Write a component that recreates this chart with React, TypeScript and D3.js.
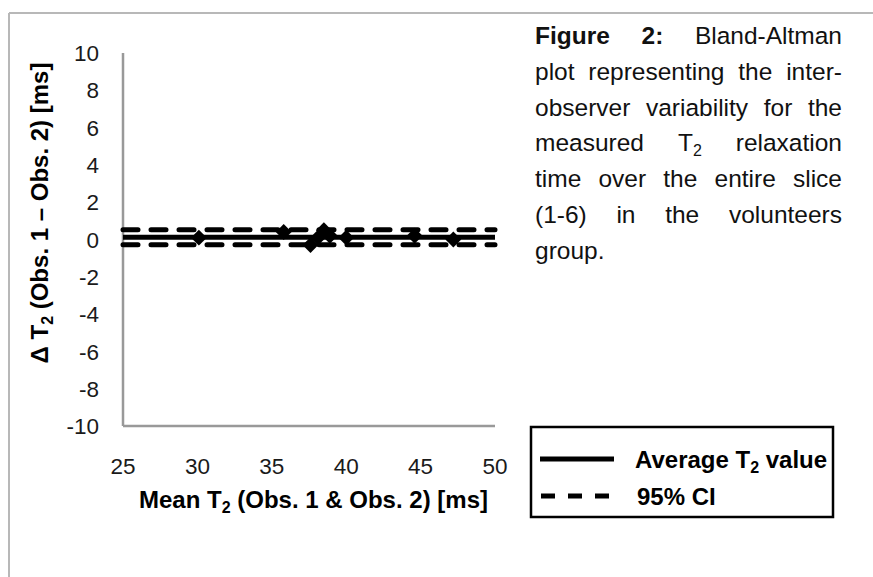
import { useMemo } from 'react';
import * as d3 from 'd3';

// Bland-Altman points (mean of both observers vs difference)
const meanT2 = [30.1, 35.8, 37.6, 38.1, 38.5, 38.9, 40.0, 44.6, 47.2];
const deltaT2 = [0.1, 0.4, -0.3, 0.1, 0.5, 0.2, 0.1, 0.2, 0.0];
const avgDelta = 0.12;
const ciUpper = 0.52;
const ciLower = -0.28;

const xTicks = [25, 30, 35, 40, 45, 50];
const yTicks = [10, 8, 6, 4, 2, 0, -2, -4, -6, -8, -10];

type Seg = { t: string; bold?: boolean; sub?: boolean };
type Word = Seg[];

const captionLines: Word[][] = [
  [[{ t: 'Figure', bold: true }], [{ t: '2:', bold: true }], [{ t: 'Bland-Altman' }]],
  [[{ t: 'plot' }], [{ t: 'representing' }], [{ t: 'the' }], [{ t: 'inter-' }]],
  [[{ t: 'observer' }], [{ t: 'variability' }], [{ t: 'for' }], [{ t: 'the' }]],
  [[{ t: 'measured' }], [{ t: 'T' }, { t: '2', sub: true }], [{ t: 'relaxation' }]],
  [[{ t: 'time' }], [{ t: 'over' }], [{ t: 'the' }], [{ t: 'entire' }], [{ t: 'slice' }]],
  [[{ t: '(1-6)' }], [{ t: 'in' }], [{ t: 'the' }], [{ t: 'volunteers' }]],
  [[{ t: 'group.' }]],
];

const FONT = "'Liberation Sans', Arial, sans-serif";
const W = 873;
const H = 577;
const M = { left: 123, right: 495, top: 53, bottom: 426 };

const CAP_X0 = 535;
const CAP_X1 = 842;
const CAP_Y0 = 44;
const CAP_LH = 35.8;
const CAP_FS = 24.5;
const SUB_FS = 16;

export default function App() {
  const x = d3.scaleLinear().domain([25, 50]).range([M.left, M.right]);
  const y = d3.scaleLinear().domain([-10, 10]).range([M.bottom, M.top]);

  const caption = useMemo(() => {
    const ctx = document.createElement('canvas').getContext('2d')!;
    const segW = (s: Seg) => {
      ctx.font = `${s.bold ? 'bold ' : ''}${s.sub ? SUB_FS : CAP_FS}px ${FONT}`;
      return ctx.measureText(s.t).width;
    };
    return captionLines.map((words, li) => {
      const widths = words.map((w) => d3.sum(w, segW));
      const last = li === captionLines.length - 1;
      const gap = last || words.length < 2
        ? ctx.measureText(' ').width
        : (CAP_X1 - CAP_X0 - d3.sum(widths)) / (words.length - 1);
      let cx = CAP_X0;
      return words.map((w, wi) => {
        const pos = cx;
        cx += widths[wi] + gap;
        return { word: w, x: pos };
      });
    });
  }, []);

  const line = d3.line<[number, number]>().x((d) => x(d[0])).y((d) => y(d[1]));
  const hLine = (v: number) => line([[25, v], [50, v]]) ?? '';
  const diamond = d3.symbol(d3.symbolDiamond2, 160)() ?? '';

  return (
    <svg
      width={W}
      height={H}
      style={{ position: 'absolute', left: 0, top: 0, background: '#fff' }}
      fontFamily={FONT}
    >
      {/* outer frame */}
      <line x1={9} y1={13} x2={W} y2={13} stroke="#b8b8b8" strokeWidth={2} />
      <line x1={9} y1={13} x2={9} y2={H} stroke="#b8b8b8" strokeWidth={2} />

      {/* axes */}
      <line x1={M.left} y1={M.top} x2={M.left} y2={M.bottom} stroke="#999" strokeWidth={2.5} />
      <line x1={M.left} y1={M.bottom} x2={M.right} y2={M.bottom} stroke="#999" strokeWidth={2.5} />

      {yTicks.map((t) => (
        <text key={t} x={99} y={y(t)} dy="0.36em" textAnchor="end" fontSize={22.5} fill="#1a1a1a">
          {t}
        </text>
      ))}
      {xTicks.map((t) => (
        <text key={t} x={x(t)} y={474} textAnchor="middle" fontSize={22.5} fill="#1a1a1a">
          {t}
        </text>
      ))}

      <text x={313.5} y={508} textAnchor="middle" fontSize={24} fontWeight="bold">
        Mean T<tspan fontSize={16} dy={5}>2</tspan>
        <tspan dy={-5}> (Obs. 1 &amp; Obs. 2) [ms]</tspan>
      </text>
      <text
        transform="translate(48,213) rotate(-90)"
        textAnchor="middle"
        fontSize={24}
        fontWeight="bold"
      >
        Δ T<tspan fontSize={16} dy={5}>2</tspan>
        <tspan dy={-5}> (Obs. 1 – Obs. 2) [ms]</tspan>
      </text>

      {/* reference lines */}
      <path d={hLine(ciUpper)} stroke="#000" strokeWidth={5} strokeDasharray="15 13" strokeLinecap="round" fill="none" />
      <path d={hLine(ciLower)} stroke="#000" strokeWidth={5} strokeDasharray="15 13" strokeLinecap="round" fill="none" />
      <path d={hLine(avgDelta)} stroke="#000" strokeWidth={5} fill="none" />

      {meanT2.map((m, i) => (
        <path key={i} d={diamond} transform={`translate(${x(m)},${y(deltaT2[i])})`} fill="#000" />
      ))}

      {/* legend */}
      <rect x={531} y={427} width={302} height={90} fill="#fff" stroke="#000" strokeWidth={2.5} />
      <line x1={540} y1={459} x2={614} y2={459} stroke="#000" strokeWidth={5} />
      <line x1={541} y1={496} x2={612} y2={496} stroke="#000" strokeWidth={5} strokeDasharray="14 13" />
      <text x={635} y={468} fontSize={24} fontWeight="bold">
        Average T<tspan fontSize={16} dy={5}>2</tspan>
        <tspan dy={-5}> value</tspan>
      </text>
      <text x={637} y={505} fontSize={24} fontWeight="bold">95% CI</text>

      {/* caption */}
      {caption.map((words, li) =>
        words.map((w, wi) => (
          <text key={`${li}-${wi}`} x={w.x} y={CAP_Y0 + li * CAP_LH} fontSize={CAP_FS} fill="#111">
            {w.word.map((s, si) => (
              <tspan
                key={si}
                fontWeight={s.bold ? 'bold' : 'normal'}
                fontSize={s.sub ? SUB_FS : CAP_FS}
                dy={s.sub ? 5 : 0}
              >
                {s.t}
              </tspan>
            ))}
          </text>
        )),
      )}
    </svg>
  );
}
